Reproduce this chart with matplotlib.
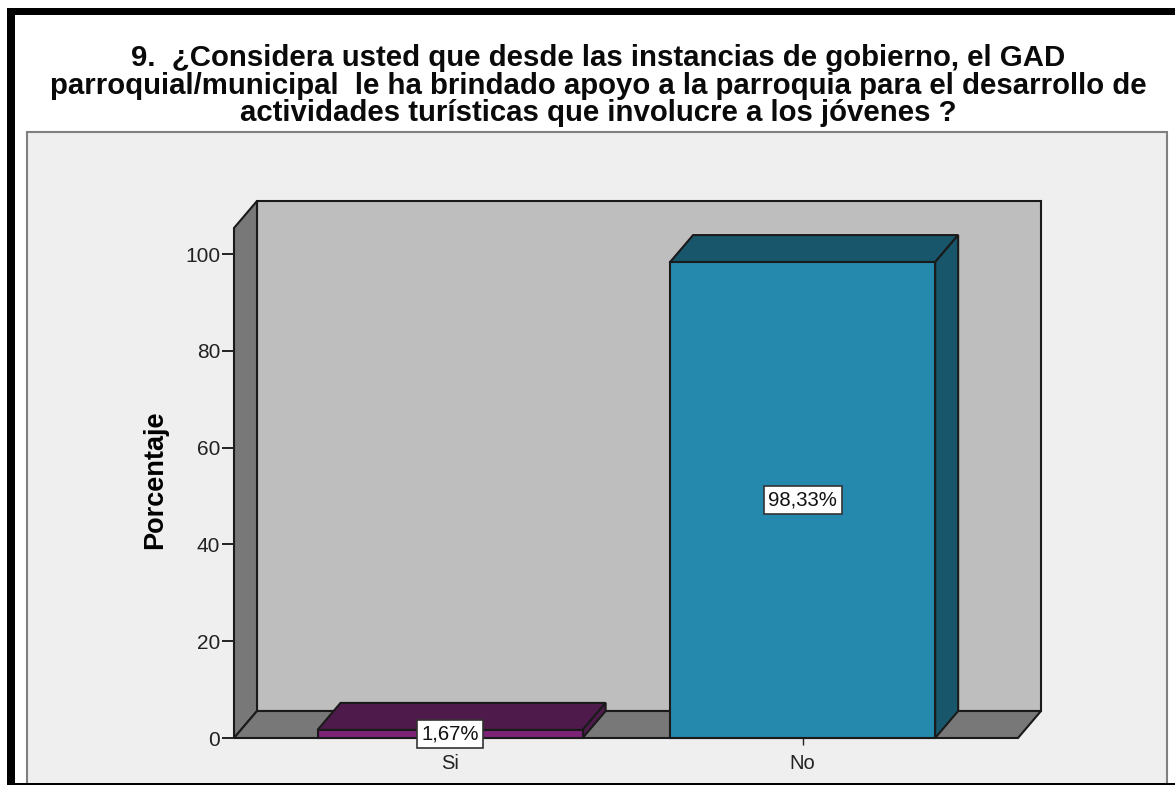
import matplotlib
matplotlib.use('Agg')
import matplotlib.pyplot as plt
from matplotlib.patches import Polygon, Rectangle

plt.rcParams['font.family'] = ['Liberation Sans', 'DejaVu Sans']

categories = ['Si', 'No']
valores = [1.67, 98.33]
etiquetas = ['1,67%', '98,33%']
yticks = [0, 20, 40, 60, 80, 100]
titulo = ('9.  ¿Considera usted que desde las instancias de gobierno, el GAD\n'
          'parroquial/municipal  le ha brindado apoyo a la parroquia para el desarrollo de\n'
          'actividades turísticas que involucre a los jóvenes ?')

W, H = 1175, 785
colores_frente = ['#7C2378', '#2489AC']
colores_lado = ['#4E1A4C', '#17566B']
EDGE = '#1a1a1a'


def px_rect(x0, y0, x1, y1, **kw):
    # rectangulo en pixeles de la imagen (y hacia abajo)
    fig.add_artist(Rectangle((x0 / W, 1 - y1 / H), (x1 - x0) / W, (y1 - y0) / H,
                             transform=fig.transFigure, **kw))


fig = plt.figure(figsize=(W / 100, H / 100), dpi=100, facecolor='white')

# marco negro y panel gris
px_rect(27, 132, 1167, 800, facecolor='#EFEFEF', edgecolor='#808080', linewidth=1.5)
px_rect(7, 8, 1175, 15, facecolor='black', edgecolor='none')
px_rect(7, 8, 15, 785, facecolor='black', edgecolor='none')
px_rect(15, 783, 1175, 785, facecolor='black', edgecolor='none')

fig.text(598 / W, 1 - 85.5 / H, titulo, ha='center', va='center', fontsize=21.2,
         fontweight='bold', linespacing=0.98, color='#0a0a0a')

# ejes: frente del cubo 3D
ax = fig.add_axes([234 / W, 1 - 738 / H, 784 / W, 510 / H], zorder=5)
ax.set_xlim(-0.613, 1.611)
ax.set_ylim(0, 510 / 4.84)
ax.patch.set_visible(False)
for s in ax.spines.values():
    s.set_visible(False)

x0, x1 = ax.get_xlim()
ytop = ax.get_ylim()[1]
dx = 23 / 352.5   # profundidad en unidades de datos
dy = 27 / 4.84
ancho = 0.752

def poly(pts, fc, z, lw=1.5):
    ax.add_patch(Polygon(pts, closed=True, facecolor=fc, edgecolor=EDGE, linewidth=lw,
                         clip_on=False, zorder=z, joinstyle='miter'))

poly([(x0 + dx, dy), (x1 + dx, dy), (x1 + dx, ytop + dy), (x0 + dx, ytop + dy)], '#BEBEBE', 1)
poly([(x0, 0), (x0 + dx, dy), (x0 + dx, ytop + dy), (x0, ytop)], '#787878', 1.1)
poly([(x0, 0), (x1, 0), (x1 + dx, dy), (x0 + dx, dy)], '#787878', 1.2)

for i, v in enumerate(valores):
    l, r = i - ancho / 2, i + ancho / 2
    poly([(l, v), (r, v), (r + dx, v + dy), (l + dx, v + dy)], colores_lado[i], 2)
    poly([(r, 0), (r + dx, dy), (r + dx, v + dy), (r, v)], colores_lado[i], 2)
    poly([(l, 0), (r, 0), (r, v), (l, v)], colores_frente[i], 2.1)
    ax.text(i, max(v / 2, 0.6), etiquetas[i], ha='center', va='center', fontsize=14.6, zorder=5,
            color='#111111',
            bbox=dict(boxstyle='square,pad=0.22', facecolor='white', edgecolor='#333333', linewidth=1.2))

ax.set_yticks(yticks)
ax.set_xticks(range(len(categories)))
ax.set_xticklabels(categories)
ax.tick_params(axis='y', length=8.5, width=1.4, color='#222222', labelsize=15, pad=1.5, labelcolor='#222222')
ax.tick_params(axis='x', length=5, width=1, color='#222222', labelsize=14.5, pad=6.5, labelcolor='#222222')
for t in ax.get_xticklines():
    t.set_zorder(0)

ax.set_ylabel('Porcentaje', fontsize=19.5, fontweight='bold', labelpad=0)
ax.yaxis.set_label_coords((168 - 234) / 784, (738 - 480) / 510)

fig.savefig('out.png', dpi=100)
